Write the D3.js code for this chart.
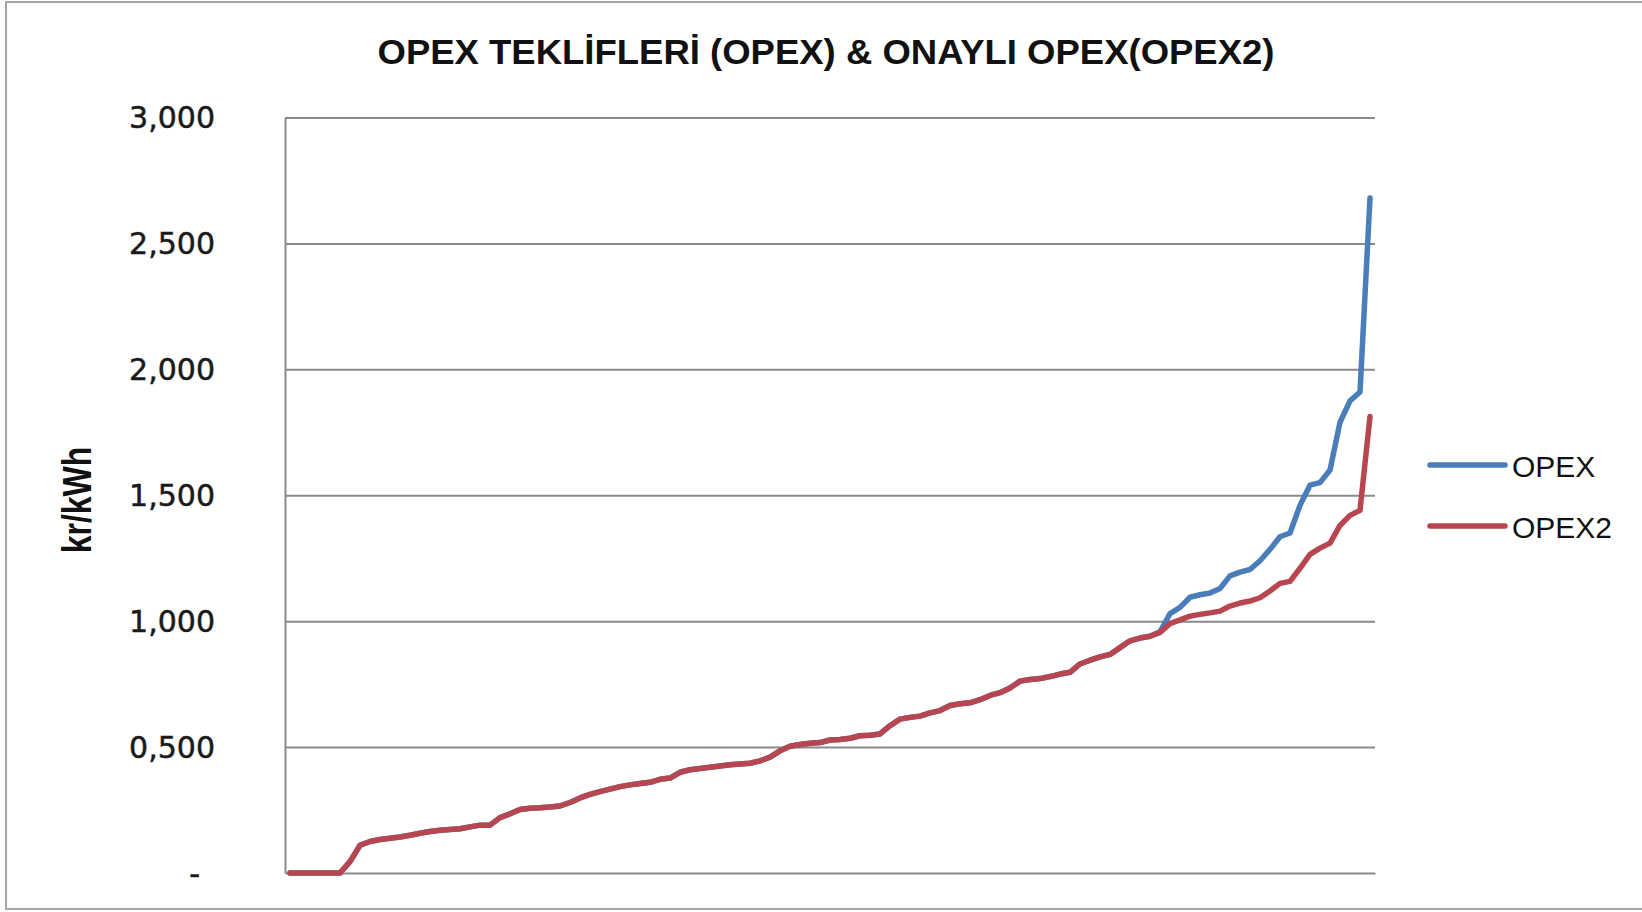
<!DOCTYPE html>
<html>
<head>
<meta charset="utf-8">
<script src="https://cdn.jsdelivr.net/npm/d3@7"></script>
<style>
  html, body { margin: 0; padding: 0; background: #fff; }
  svg { display: block; }
</style>
</head>
<body>
<div id="chart"></div>
<script>
const WIDTH = 1642;
const HEIGHT = 912;

const TITLE = 'OPEX TEKLİFLERİ (OPEX) & ONAYLI OPEX(OPEX2)';
const Y_TITLE = 'kr/kWh';

// 109 ranked offers, no x labels on the chart
const categories = d3.range(1, 110);

const tickValues = [0, 0.5, 1, 1.5, 2, 2.5, 3];
const tickLabels = ['-', '0,500', '1,000', '1,500', '2,000', '2,500', '3,000'];

const seriesNames = ['OPEX', 'OPEX2'];
const seriesColors = ['#4a7ebb', '#b84650'];

const opex = [
  0, 0, 0, 0, 0, 0, 0.045, 0.11, 0.125, 0.133,
  0.138, 0.143, 0.15, 0.158, 0.165, 0.17, 0.173, 0.176, 0.183, 0.19,
  0.19, 0.22, 0.235, 0.252, 0.257, 0.259, 0.262, 0.266, 0.28, 0.298,
  0.312, 0.323, 0.333, 0.343, 0.35, 0.355, 0.36, 0.372, 0.377, 0.4,
  0.41, 0.415, 0.42, 0.425, 0.43, 0.433, 0.436, 0.445, 0.46, 0.485,
  0.503, 0.51, 0.515, 0.518, 0.528, 0.53, 0.535, 0.545, 0.547, 0.552,
  0.585, 0.611, 0.618, 0.623, 0.636, 0.645, 0.665, 0.672, 0.676, 0.688,
  0.705, 0.716, 0.735, 0.762, 0.768, 0.772, 0.78, 0.79, 0.797, 0.83,
  0.845, 0.858, 0.868, 0.895, 0.922, 0.933, 0.94, 0.958, 1.03, 1.055,
  1.095, 1.105, 1.112, 1.13, 1.18, 1.195, 1.205, 1.24, 1.285, 1.335,
  1.35, 1.46, 1.54, 1.55, 1.6, 1.79, 1.875, 1.91, 2.68
];

const opex2 = [
  0, 0, 0, 0, 0, 0, 0.045, 0.11, 0.125, 0.133,
  0.138, 0.143, 0.15, 0.158, 0.165, 0.17, 0.173, 0.176, 0.183, 0.19,
  0.19, 0.22, 0.235, 0.252, 0.257, 0.259, 0.262, 0.266, 0.28, 0.298,
  0.312, 0.323, 0.333, 0.343, 0.35, 0.355, 0.36, 0.372, 0.377, 0.4,
  0.41, 0.415, 0.42, 0.425, 0.43, 0.433, 0.436, 0.445, 0.46, 0.485,
  0.503, 0.51, 0.515, 0.518, 0.528, 0.53, 0.535, 0.545, 0.547, 0.552,
  0.585, 0.611, 0.618, 0.623, 0.636, 0.645, 0.665, 0.672, 0.676, 0.688,
  0.705, 0.716, 0.735, 0.762, 0.768, 0.772, 0.78, 0.79, 0.797, 0.83,
  0.845, 0.858, 0.868, 0.895, 0.922, 0.933, 0.94, 0.955, 0.99, 1.005,
  1.02, 1.027, 1.033, 1.04, 1.06, 1.072, 1.08, 1.093, 1.12, 1.15,
  1.158, 1.21, 1.265, 1.29, 1.31, 1.38, 1.42, 1.44, 1.813
];

const plot = { left: 285, right: 1375, top: 117.5, bottom: 873 };
const GRID_COLOR = '#8a8a8a';


const drawChart = (svg) => {
  const x = d3.scalePoint()
    .domain(categories)
    .range([plot.left, plot.right])
    .padding(0.5);
  const y = d3.scaleLinear()
    .domain([0, 3])
    .range([plot.bottom, plot.top]);

  // outer frame (right edge is cut off in the original)
  svg.append('rect')
    .attr('x', 6).attr('y', 2)
    .attr('width', 1660).attr('height', 907)
    .attr('fill', 'none')
    .attr('stroke', '#a6a6a6')
    .attr('stroke-width', 2);

  // title
  svg.append('text')
    .attr('x', 826)
    .attr('y', 64)
    .attr('text-anchor', 'middle')
    .attr('font-family', '"Liberation Sans", Arial, sans-serif')
    .attr('font-weight', 'bold')
    .attr('font-size', 35)
    .attr('textLength', 897)
    .attr('lengthAdjust', 'spacingAndGlyphs')
    .attr('fill', '#111')
    .text(TITLE);

  // horizontal gridlines
  svg.append('g')
    .attr('transform', `translate(${plot.left},0)`)
    .call(d3.axisLeft(y).tickValues(tickValues.slice(1)).tickSize(-(plot.right - plot.left)).tickFormat(''))
    .call(g => g.select('.domain').remove())
    .call(g => g.selectAll('line')
      .attr('stroke', GRID_COLOR)
      .attr('stroke-width', 2));

  // category axis baseline
  svg.append('g')
    .attr('transform', `translate(0,${plot.bottom})`)
    .call(d3.axisBottom(x).tickValues([]).tickSizeOuter(0))
    .call(g => g.select('.domain')
      .attr('stroke', GRID_COLOR)
      .attr('stroke-width', 2));

  // value axis with labels
  svg.append('g')
    .attr('transform', `translate(${plot.left},0)`)
    .call(d3.axisLeft(y)
      .tickValues(tickValues)
      .tickSize(0)
      .tickPadding(70)
      .tickFormat((d, i) => tickLabels[i]))
    .call(g => g.select('.domain')
      .attr('stroke', GRID_COLOR)
      .attr('stroke-width', 2))
    .call(g => g.selectAll('text')
      .attr('font-family', '"DejaVu Sans", Verdana, sans-serif')
      .attr('font-size', 30)
      .attr('fill', '#1a1a1a')
      .attr('stroke', '#1a1a1a')
      .attr('stroke-width', 0.5)
      .attr('dy', '0.34em')
      .attr('dx', (d) => d === 0 ? -15 : 0));

  // y axis title
  svg.append('text')
    .attr('transform', 'translate(91,500) scale(1.28,1) rotate(-90)')
    .attr('text-anchor', 'middle')
    .attr('font-family', '"Liberation Sans", Arial, sans-serif')
    .attr('font-weight', 'bold')
    .attr('font-size', 32)
    .attr('fill', '#111')
    .text(Y_TITLE);

  // series lines
  const line = d3.line()
    .x((d, i) => x(categories[i]))
    .y((d) => y(d));

  svg.append('g')
    .selectAll('path')
    .data([opex, opex2])
    .join('path')
      .attr('d', line)
      .attr('fill', 'none')
      .attr('stroke', (d, i) => seriesColors[i])
      .attr('stroke-width', 5.5)
      .attr('stroke-linejoin', 'round')
      .attr('stroke-linecap', 'round');

  // legend
  const legend = svg.append('g')
    .selectAll('g')
    .data(seriesNames)
    .join('g')
      .attr('transform', (d, i) => `translate(1430,${465 + i * 61})`);

  legend.append('line')
    .attr('x1', 0).attr('x2', 75)
    .attr('y1', 0).attr('y2', 0)
    .attr('stroke', (d, i) => seriesColors[i])
    .attr('stroke-width', 5.5)
    .attr('stroke-linecap', 'round');

  legend.append('text')
    .attr('x', 82)
    .attr('y', 12)
    .attr('font-family', '"Liberation Sans", Arial, sans-serif')
    .attr('font-size', 30)
    .attr('fill', '#111')
    .text((d) => d);
};


const svg = d3.select('#chart').append('svg')
  .attr('width', WIDTH)
  .attr('height', HEIGHT)
  .attr('viewBox', `0 0 ${WIDTH} ${HEIGHT}`);

drawChart(svg);
</script>
</body>
</html>
